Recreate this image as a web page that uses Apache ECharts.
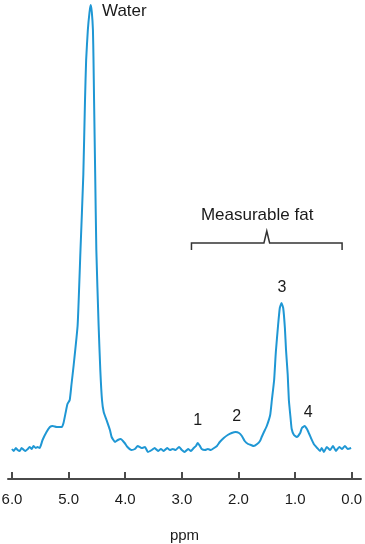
<!DOCTYPE html>
<html><head><meta charset="utf-8">
<script src="https://cdn.jsdelivr.net/npm/echarts@6/dist/echarts.min.js"></script>
<style>html,body{margin:0;padding:0;background:#fff}#c{width:365px;height:544px}</style>
</head><body><div id="c"></div>
<script>
// chemical shift (ppm) and signal intensity (a.u.)
const ppm = [6.00,5.97,5.93,5.90,5.86,5.83,5.79,5.76,5.72,5.69,5.65,5.62,5.58,5.55,5.51,5.46,5.39,5.33,5.28,5.21,5.12,5.09,5.05,5.02,4.98,4.95,4.91,4.84,4.79,4.74,4.71,4.69,4.66,4.63,4.61,4.59,4.57,4.56,4.55,4.53,4.51,4.47,4.44,4.41,4.38,4.33,4.27,4.24,4.18,4.13,4.08,4.01,3.96,3.89,3.83,3.78,3.71,3.65,3.60,3.53,3.48,3.42,3.37,3.32,3.26,3.21,3.16,3.11,3.05,3.00,2.95,2.89,2.84,2.79,2.75,2.72,2.68,2.65,2.59,2.54,2.49,2.43,2.38,2.33,2.26,2.19,2.12,2.05,1.99,1.94,1.89,1.83,1.78,1.73,1.67,1.62,1.59,1.55,1.50,1.44,1.41,1.37,1.34,1.30,1.27,1.24,1.21,1.18,1.16,1.13,1.11,1.08,1.06,1.02,0.97,0.91,0.88,0.83,0.79,0.75,0.72,0.67,0.61,0.56,0.53,0.49,0.44,0.38,0.33,0.28,0.22,0.17,0.12,0.07,0.01];
const intensity = [6,4,7,5,4,7,5,4,6,8,6,9,7,8,7,15,23,28,29,28,28,32,43,51,55,70,90,130,205,280,355,395,425,443,450,443,425,395,355,280,205,130,85,55,43,35,25,18,13,15,16,12,8,5,6,9,7,8,3,5,7,4,6,4,7,5,6,5,8,5,3,6,4,7,9,12,9,6,5,6,5,7,9,13,17,20,22,23,22,19,14,11,10,9,11,14,18,23,29,40,55,75,103,130,147,152,147,127,105,80,55,37,26,20,18,22,27,29,26,21,17,11,7,4,7,3,8,5,9,4,8,6,9,6,7];
const tickValues = [0,1,2,3,4,5,6];
const peakLabels = ['1','2','3','4'];
const bracketLabel = 'Measurable fat';
const waterLabel = 'Water';

// annotation anchors (ppm, intensity) – layout only
const peakLabelAnchors = [[2.72,34],[2.03,38],[1.23,167],[0.77,42]];
const waterAnchor = [4.41,444];
const bracketAnchor = {left:2.83,right:0.17,mid:1.50,bottom:205,top:212,apex:224,text:[1.67,240]};

const FONT = '"Liberation Sans", Arial, sans-serif';
const chart = echarts.init(document.getElementById('c'));
const data = ppm.map((p,i)=>[p,intensity[i]]);
chart.setOption({
  animation:false,
  grid:{left:8,right:4,top:5,bottom:65,containLabel:false,outerBoundsMode:'none'},
  xAxis:{type:'value',inverse:true,min:-0.164,max:6.07,
    axisLine:{show:true,onZero:false,lineStyle:{color:'#4a4a4a',width:2}},
    axisTick:{show:true,inside:true,length:7,customValues:tickValues,lineStyle:{color:'#4a4a4a',width:2}},
    axisLabel:{customValues:tickValues,formatter:v=>v.toFixed(1),color:'#1a1a1a',fontSize:15,fontFamily:FONT,margin:13,hideOverlap:false},
    splitLine:{show:false},
    name:'ppm',nameLocation:'middle',nameGap:49,nameTextStyle:{color:'#1a1a1a',fontSize:15,fontFamily:FONT}},
  yAxis:{type:'value',min:-24,max:450,show:false},
  series:[{type:'line',data:data,showSymbol:false,smooth:0.15,lineStyle:{color:'#1f97d4',width:2},clip:false}]
});
const px = (p,v)=>chart.convertToPixel({gridIndex:0},[p,v]);
const g = [];
const txt = (s,pt,size,align)=>({type:'text',x:pt[0],y:pt[1],style:{text:s,fill:'#1a1a1a',font:size+'px '+FONT,align:align||'center',verticalAlign:'middle'}});
g.push(txt(waterLabel,px(waterAnchor[0],waterAnchor[1]),17,'left'));
peakLabels.forEach((s,i)=>g.push(txt(s,px(peakLabelAnchors[i][0],peakLabelAnchors[i][1]),16)));
g.push(txt(bracketLabel,px(bracketAnchor.text[0],bracketAnchor.text[1]),17));
const b = bracketAnchor;
const L0=px(b.left,b.bottom),L1=px(b.left,b.top),M0=px(b.mid+0.05,b.top),M1=px(b.mid,b.apex),M2=px(b.mid-0.05,b.top),R1=px(b.right,b.top),R0=px(b.right,b.bottom);
g.push({type:'polyline',shape:{points:[L0,L1,M0,M1,M2,R1,R0]},style:{stroke:'#333',lineWidth:1.5,fill:null}});
chart.setOption({graphic:g});
</script></body></html>
